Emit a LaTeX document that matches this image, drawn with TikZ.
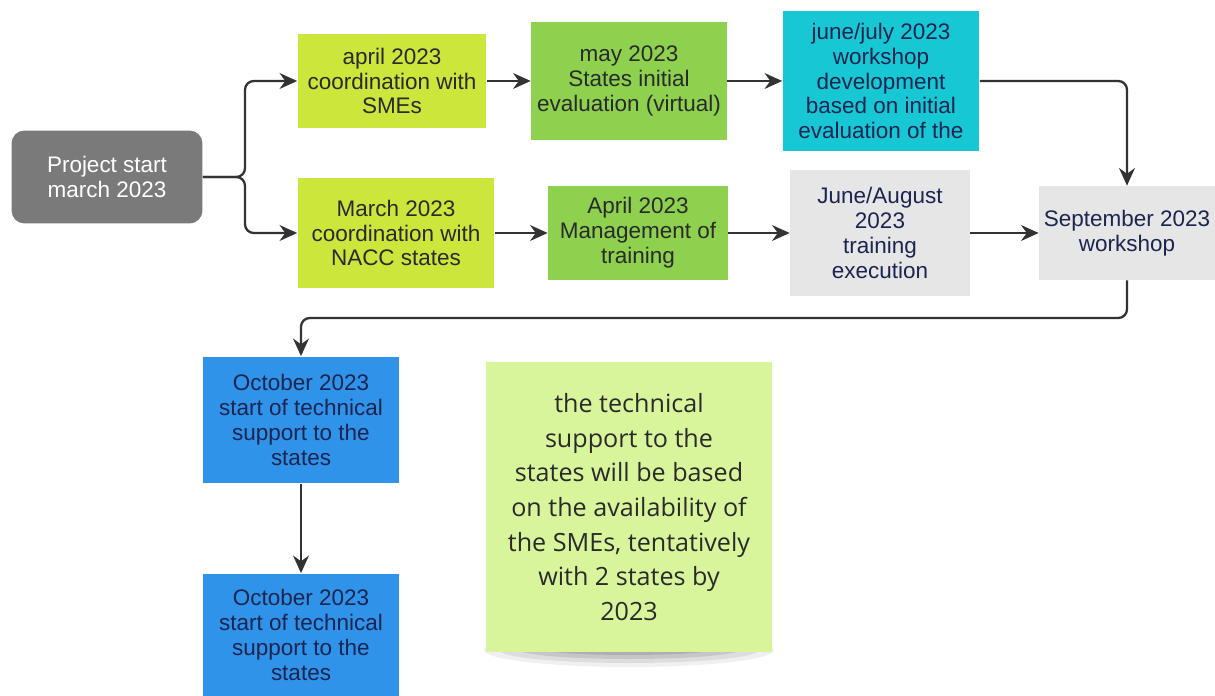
\documentclass[tikz,border=0pt]{standalone}
\usepackage{fontspec}
\setmainfont{Liberation Sans}
\newfontfamily\notefont{Open Sans}
\usepackage{tikz}
\usetikzlibrary{arrows.meta,backgrounds}
\definecolor{startgray}{HTML}{7A7A7A}
\definecolor{limegreen}{HTML}{CDE63B}
\definecolor{midgreen}{HTML}{8DD14F}
\definecolor{cyanbox}{HTML}{17C8D4}
\definecolor{lightgray}{HTML}{E6E6E6}
\definecolor{bluebox}{HTML}{2F93EA}
\definecolor{notegreen}{HTML}{D9F59C}
\definecolor{navytext}{HTML}{1B2550}
\definecolor{darktext}{HTML}{2A2A2A}
\definecolor{arrowgray}{HTML}{333333}
\newcommand{\boxfont}{\fontsize{12.8}{14.2}\selectfont}
\newcommand{\thick}{1.3pt}
\tikzset{
  box/.style={rectangle, inner sep=0pt, align=center, font=\boxfont},
  flow/.style={draw=arrowgray, line width=\thick, -{Stealth[length=10pt,width=9pt]}, rounded corners=5pt}
}

\begin{document}
\begin{tikzpicture}[x=0.02cm, y=-0.02cm]
\useasboundingbox (0,0) rectangle (1215,696);
%start
\node[box, fill=startgray, text=white, rounded corners=0.26cm, minimum width=3.82cm, minimum height=1.86cm] (start) at (107,177) {Project start\\march 2023};
%top row
\node[box, fill=limegreen, text=darktext, minimum width=3.78cm, minimum height=1.88cm] (april) at (392,81) {april 2023\\coordination with\\SMEs};
\node[box, fill=midgreen, text=darktext, minimum width=3.92cm, minimum height=2.36cm] (may) at (629,81) {may 2023\\States initial\\evaluation (virtual)};
\node[box, fill=cyanbox, text=navytext, minimum width=3.94cm, minimum height=2.82cm] (junejuly) at (881,81) {june/july 2023\\workshop\\development\\based on initial\\evaluation of the};
%bottom row
\node[box, fill=limegreen, text=darktext, minimum width=3.94cm, minimum height=2.2cm] (march) at (396,233) {March 2023\\coordination with\\NACC states};
\node[box, fill=midgreen, text=darktext, minimum width=3.6cm, minimum height=1.88cm] (mgmt) at (638,233) {April 2023\\Management of\\training};
\node[box, fill=lightgray, text=navytext, minimum width=3.6cm, minimum height=2.54cm] (juneaug) at (880,233) {June/August\\2023\\training\\execution};
\node[box, fill=lightgray, text=navytext, minimum width=3.52cm, minimum height=1.88cm] (sept) at (1127,233) {September 2023\\workshop};
%support
\node[box, fill=bluebox, text=navytext, minimum width=3.94cm, minimum height=2.54cm] (oct1) at (301,420) {October 2023\\start of technical\\support to the\\states};
\node[box, fill=bluebox, text=navytext, minimum width=3.94cm, minimum height=2.46cm] (oct2) at (301,635) {October 2023\\start of technical\\support to the\\states};
%note
\node[box, fill=notegreen, text=darktext, font=\notefont\fontsize{14.3}{19.7}\selectfont, minimum width=5.72cm, minimum height=5.8cm] (note) at (629,507) {the technical\\support to the\\states will be based\\on the availability of\\the SMEs, tentatively\\with 2 states by\\2023};
\begin{scope}[on background layer]
\fill[black, opacity=0.06] (629,650) ellipse (145 and 17);
\fill[black, opacity=0.08] (629,650) ellipse (130 and 13);
\fill[black, opacity=0.10] (629,649) ellipse (112 and 10);
\fill[black, opacity=0.12] (629,648) ellipse (92 and 7);
\fill[black, opacity=0.12] (629,647) ellipse (70 and 5);
\end{scope}
\coordinate (split) at (245,177);
\coordinate (bend) at (1127,318);
\draw[flow] (start.east) -- (split) |- (april.west);
\draw[flow] (start.east) -- (split) |- (march.west);
\draw[flow] (april) -- (may);
\draw[flow] (may) -- (junejuly);
\draw[flow] (junejuly.east) -| (sept.north);
\draw[flow] (march) -- (mgmt);
\draw[flow] (mgmt) -- (juneaug);
\draw[flow] (juneaug) -- (sept);
\draw[flow] (sept.south) -- (bend) -| (oct1.north);
\draw[flow] (oct1) -- (oct2);
\end{tikzpicture}
\end{document}
